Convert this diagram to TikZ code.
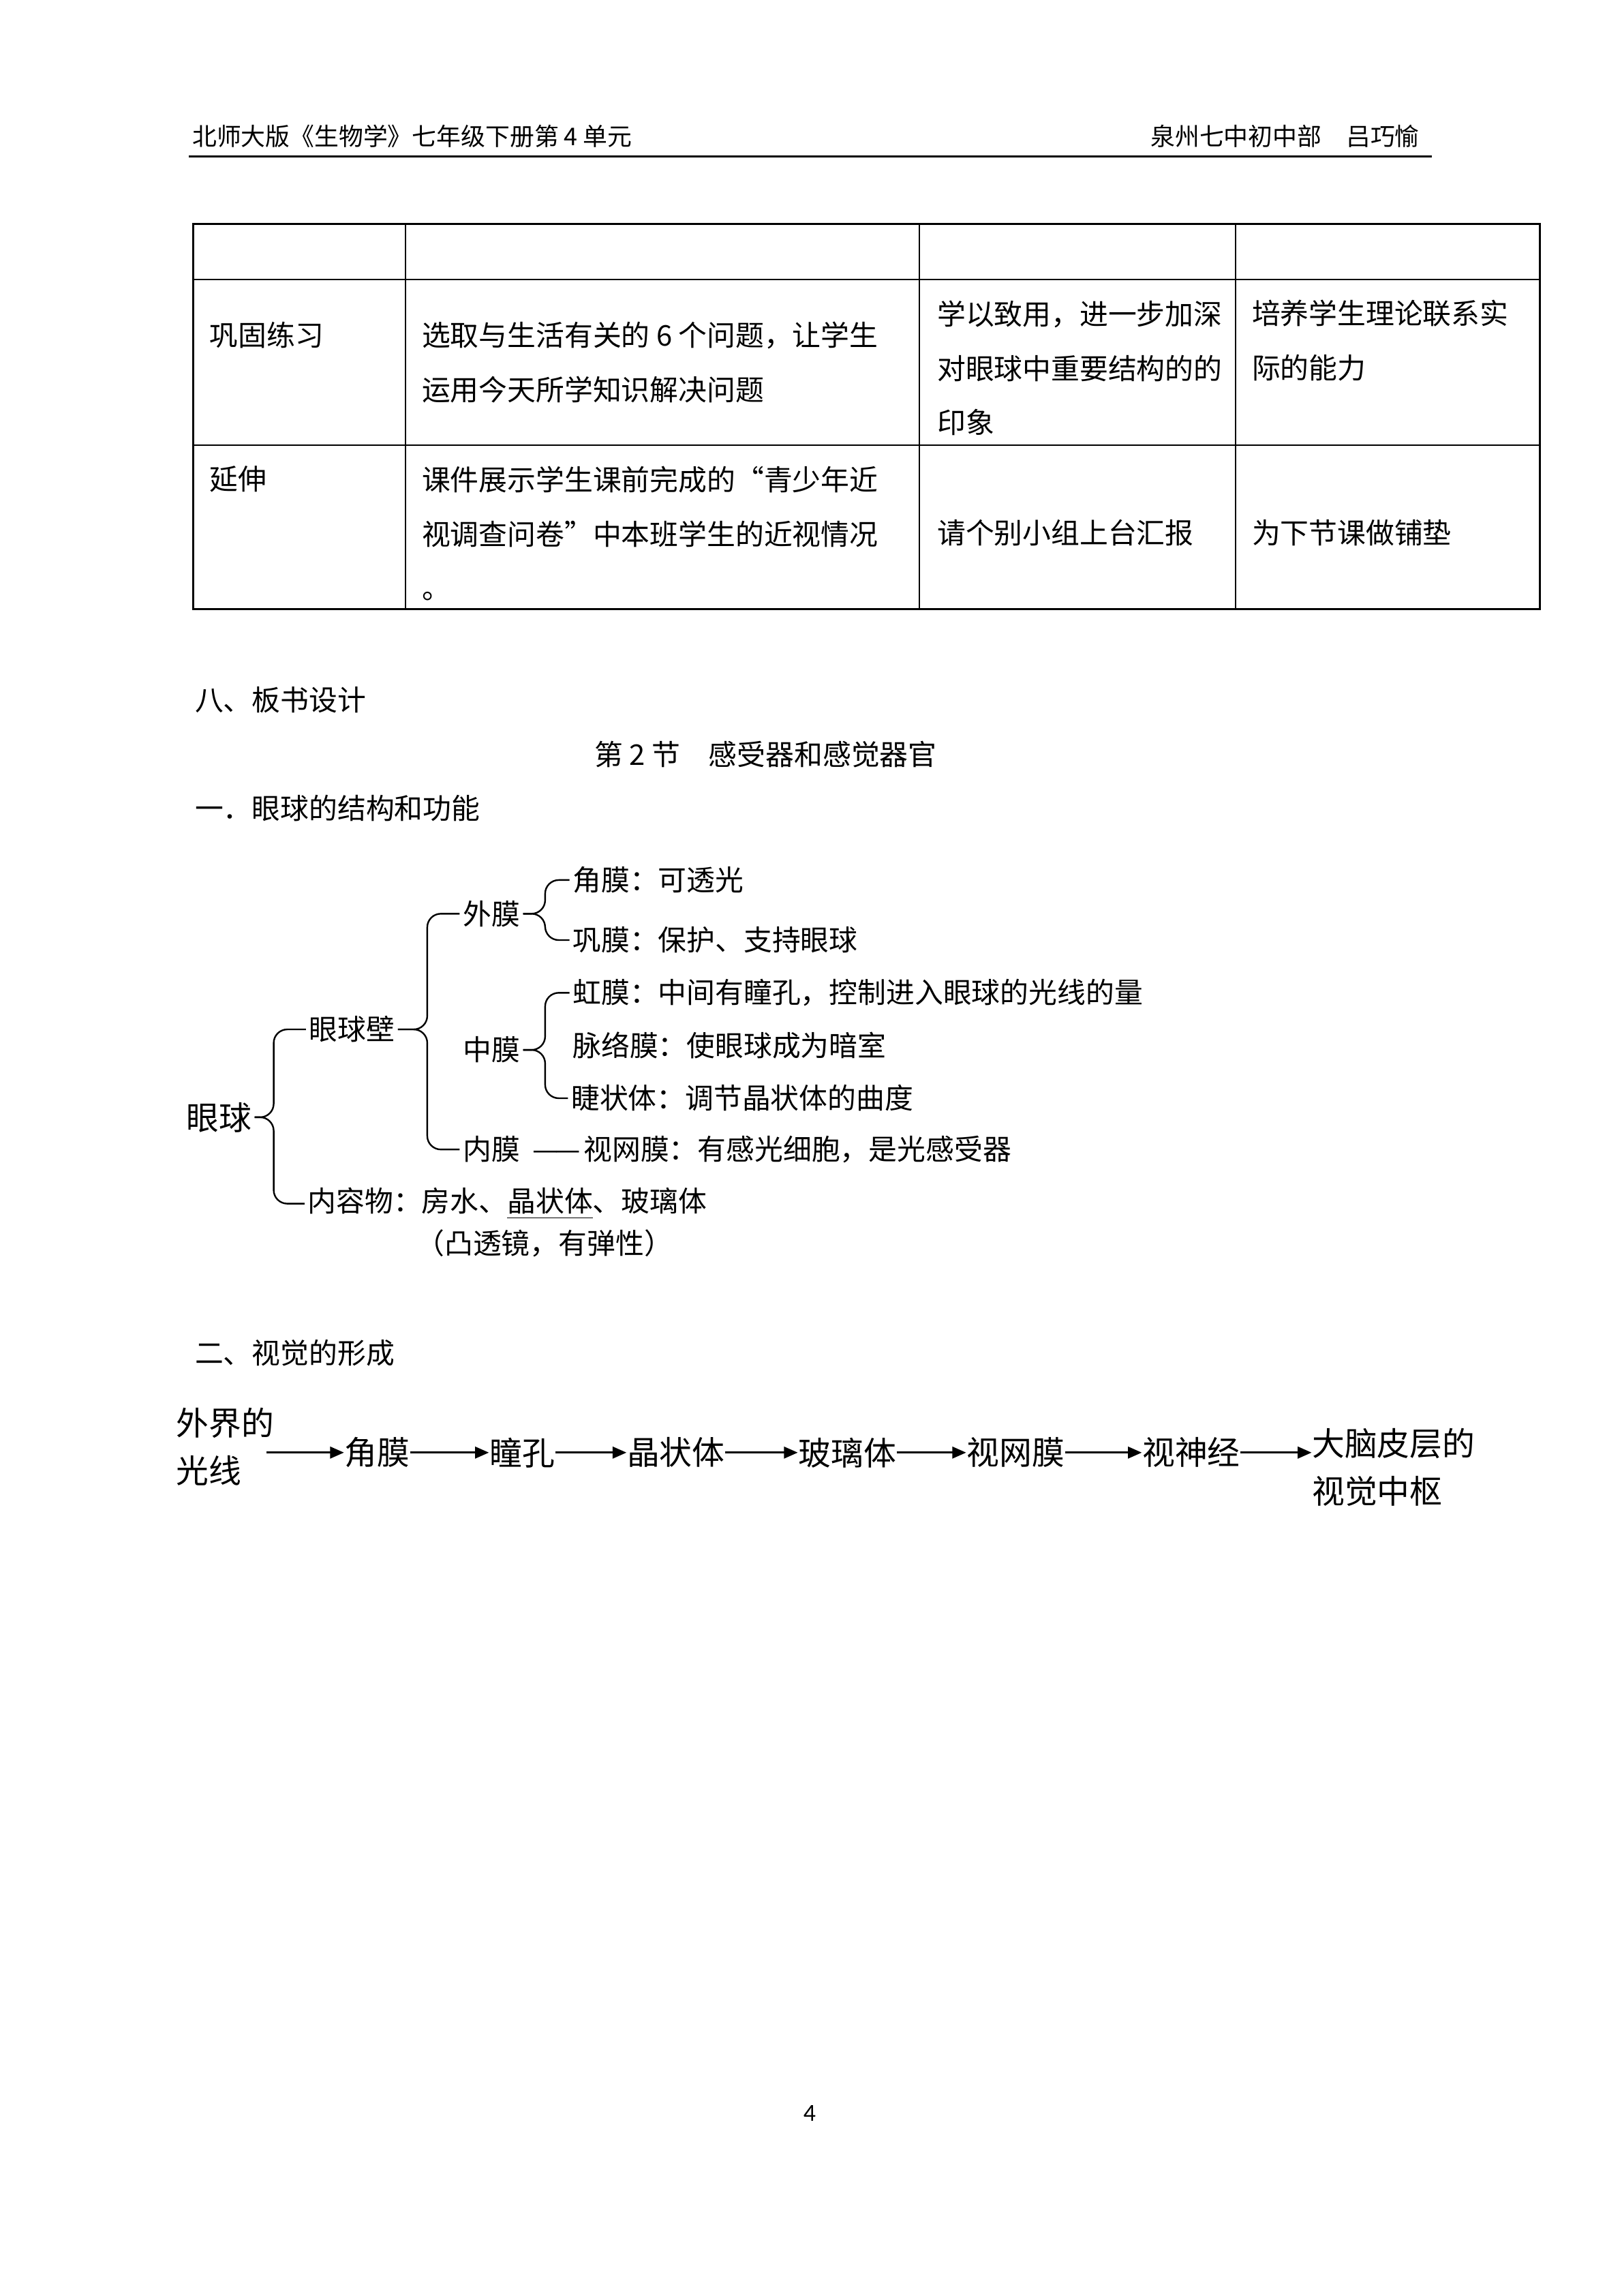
\documentclass[tikz,border=0pt]{standalone}
\usepackage{fontspec}
\setmainfont{Noto Sans CJK SC}
\newfontfamily\pagefont{Carlito}
\usetikzlibrary{arrows.meta,calc}

\tikzset{
  head/.style={inner sep=0pt, font=\fontsize{9pt}{11pt}\selectfont},
  cell/.style={anchor=west, inner sep=1pt, align=left, font=\fontsize{10.5pt}{19.95pt}\selectfont},
  item/.style={anchor=west, inner sep=1pt, font=\fontsize{10.5pt}{12.6pt}\selectfont},
  chain/.style={anchor=west, inner sep=0pt, align=left, font=\fontsize{12pt}{17.6pt}\selectfont},
  brace/.style={line width=0.6pt, rounded corners=5pt},
  flow/.style={line width=0.8pt, -{Triangle[length=1.8mm,width=1.5mm]}},
  tableline/.style={line width=0.6pt}
}

\begin{document}
\begin{tikzpicture}[x=0.01895cm, y=-0.01895cm]
\useasboundingbox (0,0) rectangle (1108,1568);

% Page header
\node[head, anchor=west] (hleft) at (131,93) {北师大版《生物学》七年级下册第 4 单元};
\node[head, anchor=east] (hright) at (970,93) {泉州七中初中部　吕巧愉};
\draw[line width=0.8pt] (129,107) -- (978,107);

% Table grid
\draw[tableline] (132,153) rectangle (1052,416);
\foreach \y in {191,304}
  \draw[tableline] (132,\y) -- (1052,\y);
\foreach \x in {277,628,844}
  \draw[tableline] (\x,153) -- (\x,416);

% Table cells
\node[cell] (r1a) at (141,229) {巩固练习};
\node[cell] (r1b) at (286,247.5) {选取与生活有关的 6 个问题，让学生\\运用今天所学知识解决问题};
\node[cell] (r1c) at (638,251.5) {学以致用，进一步加深\\对眼球中重要结构的的\\印象};
\node[cell] (r1d) at (853,232.5) {培养学生理论联系实\\际的能力};
\node[cell] (r2a) at (141,327) {延伸};
\node[cell] (r2b) at (286,364.5) {课件展示学生课前完成的“青少年近\\视调查问卷”中本班学生的近视情况\\。\vphantom{视}};
\node[cell] (r2c) at (638,364) {请个别小组上台汇报};
\node[cell] (r2d) at (853,364) {为下节课做铺垫};

% Section titles
\node[item] (sec8) at (131,478) {八、板书设计};
\node[item] (lesson) at (404,515) {第 2 节　感受器和感觉器官};
\node[item] (sec1) at (131,552) {一．眼球的结构和功能};

% Eyeball structure tree
\node[chain, inner sep=1pt] (eye) at (125,763) {眼球};
\node[item] (wall) at (209,703) {眼球壁};
\node[item] (content) at (208,822) {内容物：房水、\underline{晶状体}、玻璃体};
\node[item] (lensnote) at (282,849) {（凸透镜，有弹性）};
\node[item] (outer) at (314,624) {外膜};
\node[item] (middle) at (314,717) {中膜};
\node[item] (inner) at (314,785) {内膜\hspace{0.45em}—\kern-0.1em—\hspace{0.1em}视网膜：有感光细胞，是光感受器};
\node[item] (cornea) at (389,601) {角膜：可透光};
\node[item] (sclera) at (389,642) {巩膜：保护、支持眼球};
\node[item] (iris) at (389,678) {虹膜：中间有瞳孔，控制进入眼球的光线的量};
\node[item] (choroid) at (389,714) {脉络膜：使眼球成为暗室};
\node[item] (ciliary) at (388,750) {睫状体：调节晶状体的曲度};

% Braces (spine points next to each parent)
\coordinate (eyesp) at ($(eye.east)+(13,0)$);
\coordinate (wallsp) at ($(wall.east)+(20,0)$);
\coordinate (outersp) at ($(outer.east)+(15,0)$);
\coordinate (midsp) at ($(middle.east)+(15,0)$);

\draw[brace] (wall.west) -| (eyesp) -- (eye.east);
\draw[brace] (eye.east) -- (eyesp) |- (content.west);
\draw[brace] (outer.west) -| (wallsp) -- (wall.east);
\draw[brace] (wall.east) -- (wallsp) |- (inner.west);
\draw[brace] (cornea.west) -| (outersp) -- (outer.east);
\draw[brace] (outer.east) -- (outersp) |- (sclera.west);
\draw[brace] (iris.west) -| (midsp) -- (middle.east);
\draw[brace] (middle.east) -- (midsp) |- (ciliary.west);

% Vision pathway
\node[item] (sec2) at (131,924) {二、视觉的形成};
\node[chain] (light) at (120,988) {外界的\\光线};
\node[chain] (c1) at (235,992) {角膜};
\node[chain] (c2) at (334,992) {瞳孔};
\node[chain] (c3) at (428,992) {晶状体};
\node[chain] (c4) at (545,992) {玻璃体};
\node[chain] (c5) at (660,992) {视网膜};
\node[chain] (c6) at (780,992) {视神经};
\node[chain] (brain) at (896,1002) {大脑皮层的\\视觉中枢};

\draw[flow] ([xshift=-3pt]light.east |- c1.west) -- (c1.west);
\foreach \a/\b in {c1/c2, c2/c3, c3/c4, c4/c5, c5/c6}
  \draw[flow] (\a.east) -- (\b.west);
\draw[flow] (c6.east) -- (c6.east -| brain.west);

% Page number
\node[font=\pagefont\fontsize{9pt}{11pt}\selectfont] (pageno) at (553,1443) {4};

\end{tikzpicture}
\end{document}
